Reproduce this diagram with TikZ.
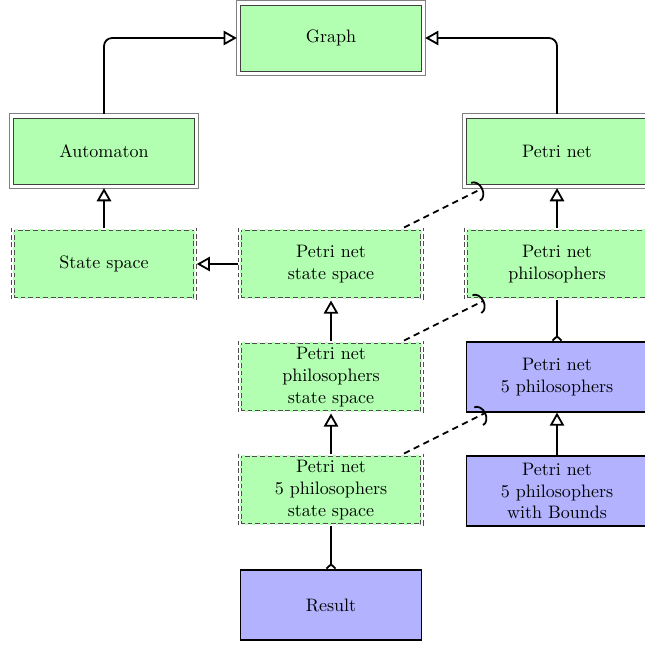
\documentclass[tikz,border=0pt]{standalone}
\usetikzlibrary{arrows.meta}
\begin{document}
\begin{tikzpicture}[x=0.555pt,y=-0.555pt,
  dbl/.style={draw=black!75, line width=0.5pt, fill=green!30,
    minimum width=100pt, minimum height=36.6pt, outer sep=2.3pt,
    align=center, inner sep=2pt},
  frame/.style={draw=black!50, line width=0.5pt},
  dsh/.style={draw=black!70, line width=0.45pt, double=white, double distance=1.1pt,
    dash pattern=on 2.6pt off 1.6pt, fill=green!30,
    minimum width=101pt, minimum height=38.5pt, outer sep=1pt,
    align=center, inner sep=2pt},
  blu/.style={draw=black, line width=1pt, fill=blue!30,
    minimum width=100.5pt, minimum height=38.5pt, outer sep=0.5pt,
    align=center, inner sep=2pt},
  gen/.style={line width=1pt, -{Triangle[open, length=7.3pt, width=8pt]}},
  inst/.style={line width=1pt, -{Straight Barb[reversed, length=2.3pt, width=5pt]}},
  dep/.style={line width=1pt, dash pattern=on 3.5pt off 2.5pt,
    -{Arc Barb[length=4.5pt, width=12pt]}},
]
\useasboundingbox (0,0) rectangle (645,644);
\node[dbl] (graph) at (331,38) {Graph};
\node[dbl] (aut) at (104,151) {Automaton};
\node[dbl] (pn) at (557,151) {Petri net};
\foreach \n in {graph,aut,pn}
  \draw[frame] (\n.north west) rectangle (\n.south east);
\node[dsh] (ss) at (104,264) {State space};
\node[dsh] (pnss) at (331,264) {Petri net\\state space};
\node[dsh] (pnp) at (557,264) {Petri net\\philosophers};
\node[dsh] (pnpss) at (331,377) {Petri net\\philosophers\\state space};
\node[blu] (pn5) at (557,377) {Petri net\\5 philosophers};
\node[dsh] (pn5ss) at (331,490) {Petri net\\5 philosophers\\state space};
\node[blu] (pn5b) at (557,491) {Petri net\\5 philosophers\\with Bounds};
\node[blu] (res) at (331,605) {Result};

\draw[gen, rounded corners=4.5pt] (aut.north) |- (graph.west);
\draw[gen, rounded corners=4.5pt] (pn.north) |- (graph.east);
\draw[gen] (ss.north) -- (aut.south);
\draw[gen] (pnss.west) -- (ss.east);
\draw[gen] (pnp.north) -- (pn.south);
\draw[gen] (pnpss.north) -- (pnss.south);
\draw[gen] (pn5ss.north) -- (pnpss.south);
\draw[gen] (pn5b.north) -- (pn5.south);
\draw[inst] (pnp.south) -- (pn5.north);
\draw[inst] (pn5ss.south) -- (res.north);
\draw[dep] (pnss) -- (pn);
\draw[dep] (pnpss) -- (pnp);
\draw[dep] (pn5ss) -- (pn5);
\end{tikzpicture}
\end{document}
